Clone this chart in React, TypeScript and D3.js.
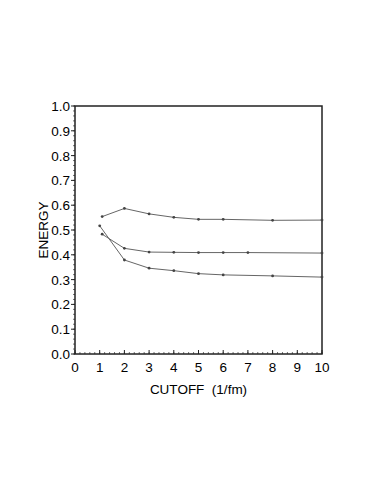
import React, { useEffect, useRef } from 'react';
import * as d3 from 'd3';

const topX = [1.1, 2, 3, 4, 5, 6, 8, 10];
const topY = [0.554, 0.587, 0.565, 0.551, 0.543, 0.543, 0.539, 0.54];
const midX = [1.1, 2, 3, 4, 5, 6, 7, 10];
const midY = [0.483, 0.426, 0.411, 0.41, 0.409, 0.409, 0.409, 0.407];
const lowX = [1, 2, 3, 4, 5, 6, 8, 10];
const lowY = [0.517, 0.379, 0.346, 0.336, 0.324, 0.319, 0.315, 0.31];

const xTicks = [0, 1, 2, 3, 4, 5, 6, 7, 8, 9, 10];
const yTicks = [0, 0.1, 0.2, 0.3, 0.4, 0.5, 0.6, 0.7, 0.8, 0.9, 1.0];

const App = () => {
  const ref = useRef<SVGSVGElement>(null);

  useEffect(() => {
    const svg = d3.select(ref.current);
    svg.selectAll('*').remove();

    const left = 75, right = 322, top = 106, bottom = 354;
    const font = 'Liberation Sans, Arial, sans-serif';

    const x = d3.scaleLinear().domain([0, 10]).range([left, right]);
    const y = d3.scaleLinear().domain([0, 1]).range([bottom, top]);

    // minor ticks
    const g = svg.append('g');
    d3.range(0, 10.001, 0.2).forEach(v => {
      g.append('line')
        .attr('x1', x(v)).attr('x2', x(v))
        .attr('y1', bottom).attr('y2', bottom - 2)
        .attr('stroke', '#333').attr('stroke-width', 0.7);
    });
    d3.range(0, 1.0001, 0.02).forEach(v => {
      g.append('line')
        .attr('x1', left).attr('x2', left - 2)
        .attr('y1', y(v)).attr('y2', y(v))
        .attr('stroke', '#333').attr('stroke-width', 0.7);
    });

    // major ticks and labels
    xTicks.forEach(v => {
      g.append('line')
        .attr('x1', x(v)).attr('x2', x(v))
        .attr('y1', bottom).attr('y2', bottom - 4)
        .attr('stroke', '#222');
      g.append('text')
        .attr('x', x(v)).attr('y', bottom + 18)
        .attr('text-anchor', 'middle')
        .attr('font-family', font).attr('font-size', 13.5)
        .text(v);
    });
    yTicks.forEach(v => {
      g.append('line')
        .attr('x1', left).attr('x2', left - 4)
        .attr('y1', y(v)).attr('y2', y(v))
        .attr('stroke', '#222');
      g.append('text')
        .attr('x', left - 5).attr('y', y(v) + 5)
        .attr('text-anchor', 'end')
        .attr('font-family', font).attr('font-size', 13.5)
        .text(v.toFixed(1));
    });

    // frame
    svg.append('rect')
      .attr('x', left).attr('y', top)
      .attr('width', right - left).attr('height', bottom - top)
      .attr('fill', 'none').attr('stroke', '#222').attr('stroke-width', 1.5);

    const line = d3.line<[number, number]>()
      .x(d => x(d[0]))
      .y(d => y(d[1]));

    [[topX, topY], [midX, midY], [lowX, lowY]].forEach(([xs, ys]) => {
      const pts = xs.map((v, i) => [v, ys[i]] as [number, number]);
      svg.append('path')
        .attr('d', line(pts))
        .attr('fill', 'none')
        .attr('stroke', '#666')
        .attr('stroke-width', 1);
      svg.append('g').selectAll('circle')
        .data(pts)
        .join('circle')
        .attr('cx', d => x(d[0]))
        .attr('cy', d => y(d[1]))
        .attr('r', 1.4)
        .attr('fill', '#444');
    });

    svg.append('text')
      .attr('x', (left + right) / 2).attr('y', 394)
      .attr('text-anchor', 'middle')
      .attr('font-family', font).attr('font-size', 13.5)
      .attr('xml:space', 'preserve')
      .text('CUTOFF  (1/fm)');

    svg.append('text')
      .attr('transform', `translate(48,${(top + bottom) / 2}) rotate(-90)`)
      .attr('text-anchor', 'middle')
      .attr('font-family', font).attr('font-size', 13.5)
      .text('ENERGY');
  }, []);

  return (
    <svg ref={ref} width={382} height={494} style={{ position: 'absolute', left: 0, top: 0 }} />
  );
};

export default App;
